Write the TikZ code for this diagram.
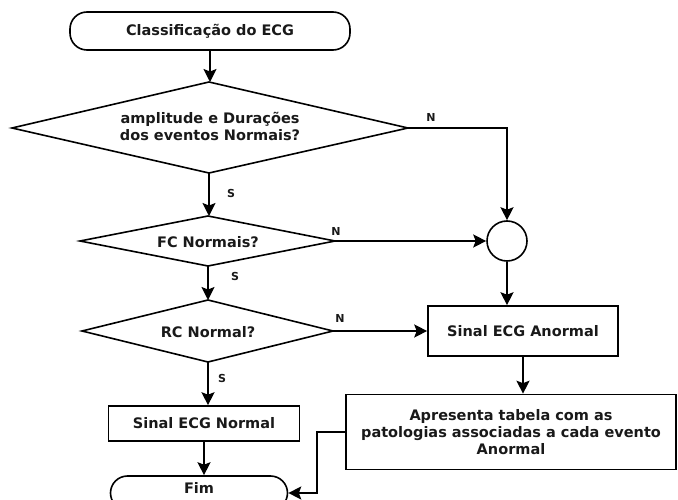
\documentclass[tikz,border=0pt]{standalone}
\usepackage{fontspec}
\setmainfont{DejaVu Sans}
\usetikzlibrary{arrows.meta}
\begin{document}
\begin{tikzpicture}[x=1pt,y=1pt,
  font=\fontsize{14.5}{17}\selectfont\bfseries,
  every node/.style={text=black!90},
  ln/.style={line width=1.6pt, draw=black, line join=miter},
  arr/.style={ln, -{Stealth[length=13pt,width=13pt,inset=2.5pt]}},
  term/.style={ln, rectangle, rounded corners=17pt, inner sep=0pt, align=center},
  proc/.style={ln, rectangle, inner sep=0pt, align=center},
  txt/.style={inner sep=0pt, align=center},
  lbl/.style={font=\fontsize{11}{13}\selectfont\bfseries, inner sep=0pt}]
\useasboundingbox (0,0) rectangle (678,-500);
\fill[white] (0,0) rectangle (678,-500);

% terminals and boxes
\node[term, minimum width=280pt, minimum height=38pt] (start) at (210,-31) {Classificação do ECG};
\node[ln, circle, minimum size=40pt, inner sep=0pt] (circ) at (507,-241) {};
\node[proc, minimum width=190pt, minimum height=50pt] (anorm) at (523,-331) {Sinal ECG Anormal};
\node[proc, minimum width=330pt, minimum height=75pt] (apres) at (511,-432) {Apresenta tabela com as\\patologias associadas a cada evento\\Anormal};
\node[proc, minimum width=191pt, minimum height=35pt] (normal) at (204,-423.5) {Sinal ECG Normal};
\node[term, minimum width=177pt, minimum height=34pt] (fim) at (199,-493) {};
\node[txt] (fimtxt) at (199,-488) {Fim};

% decision 1
\coordinate (d1n) at (209,-82);
\coordinate (d1e) at (408,-128);
\coordinate (d1s) at (209,-173);
\coordinate (d1w) at (12,-128);
\draw[ln] (d1n) -- (d1e) -- (d1s) -- (d1w) -- cycle;
\node[txt] (d1) at (210,-126) {amplitude e Durações\\dos eventos Normais?};

% decision 2
\coordinate (d2n) at (208,-216);
\coordinate (d2e) at (335,-241);
\coordinate (d2s) at (208,-266);
\coordinate (d2w) at (80,-241);
\draw[ln] (d2n) -- (d2e) -- (d2s) -- (d2w) -- cycle;
\node[txt] (d2) at (208,-242) {FC Normais?};

% decision 3
\coordinate (d3n) at (208,-300);
\coordinate (d3e) at (333,-331);
\coordinate (d3s) at (208,-362);
\coordinate (d3w) at (82,-331);
\draw[ln] (d3n) -- (d3e) -- (d3s) -- (d3w) -- cycle;
\node[txt] (d3) at (208,-332) {RC Normal?};

\coordinate (bend) at (317,-432);

\draw[arr] (start.south) -- (start.south |- d1n);
\draw[arr] (d1s) -- (d1s |- d2n);
\draw[arr] (d1e) -| (circ.north);
\draw[arr] (d2e) -- (circ.west);
\draw[arr] (d2s) -- (d3n);
\draw[arr] (d3e) -- (anorm.west);
\draw[arr] (circ.south) -- (circ.south |- anorm.north);
\draw[arr] (d3s) -- (d3s |- normal.north);
\draw[arr] (normal.south) -- (normal.south |- fim.north);
\draw[arr] (anorm.south) -- (anorm.south |- apres.north);
\draw[arr] (apres.west) -- (bend) |- (fim.east);

\node[lbl] (n1) at (431,-117) {N};
\node[lbl] (n2) at (336,-231) {N};
\node[lbl] (n3) at (340,-318) {N};
\node[lbl] (s1) at (231,-193) {S};
\node[lbl] (s2) at (235,-276) {S};
\node[lbl] (s3) at (222,-378) {S};
\end{tikzpicture}
\end{document}
